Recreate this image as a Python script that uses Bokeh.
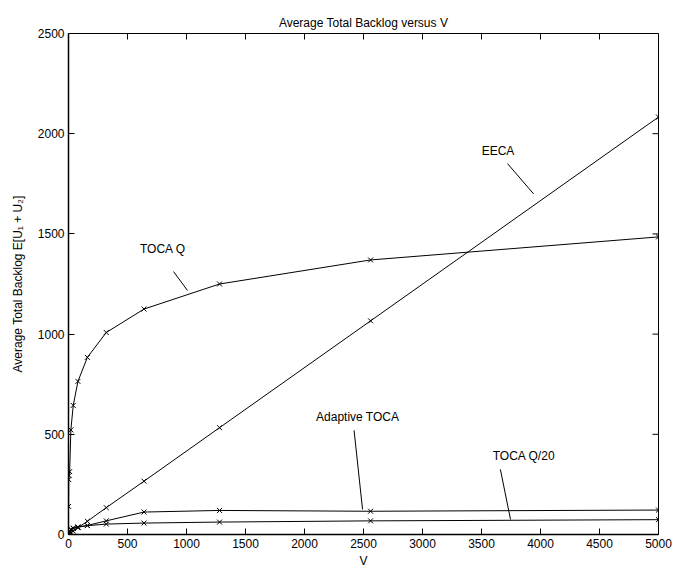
from bokeh.plotting import figure
from bokeh.models import Range1d, FixedTicker, ColumnDataSource
from bokeh.core.properties import value
from bokeh.embed import file_html
from bokeh.resources import INLINE

# ---- data ----
V = [1, 2, 5, 10, 20, 40, 80, 160, 320, 640, 1280, 2560, 5000]
toca_q = [140, 274, 294, 314, 522, 644, 764, 884, 1008, 1125, 1250, 1370, 1485]
eeca = [0.4, 0.8, 2, 4, 8, 17, 34, 66, 134, 266, 533, 1066, 2083]
adaptive_toca = [5, 10, 14, 17, 24, 30, 36, 45, 68, 112, 120, 116, 122]
toca_q20 = [7, 14, 15, 16, 26, 32, 38, 44, 52, 57, 62, 68, 74]

x_ticks = [0, 500, 1000, 1500, 2000, 2500, 3000, 3500, 4000, 4500, 5000]
y_ticks = [0, 500, 1000, 1500, 2000, 2500]

# annotation labels and pointer lines (data coordinates)
ann_text = ["TOCA Q", "EECA", "Adaptive TOCA", "TOCA Q/20"]
ann_tx = [800, 3640, 2450, 3860]
ann_ty = [1390, 1880, 549, 355]
ptr_x0 = [890, 3720, 2420, 3660]
ptr_y0 = [1312, 1851, 520, 325]
ptr_x1 = [1008, 3941, 2492, 3746]
ptr_y1 = [1218, 1700, 125, 75]

FONT = "Liberation Sans"
X_MIN, X_MAX = 0, 5000
Y_MIN, Y_MAX = 0, 2500

p = figure(width=673, height=570,
           x_range=Range1d(X_MIN, X_MAX), y_range=Range1d(Y_MIN, Y_MAX),
           output_backend="svg", toolbar_location=None,
           min_border_left=68, min_border_right=15,
           min_border_top=33, min_border_bottom=36,
           x_axis_label="V",
           y_axis_label="Average Total Backlog E[U\u2081 + U\u2082]",
           title="Average Total Backlog versus V")

p.background_fill_color = "white"
p.border_fill_color = "white"
p.outline_line_color = "black"
p.outline_line_width = 1
p.grid.visible = False

p.title.align = "center"
p.title.text_font = FONT
p.title.text_font_size = "12px"
p.title.text_font_style = "normal"
p.title.text_color = "black"
p.title.standoff = 8

for ax, ticks in ((p.xaxis[0], x_ticks), (p.yaxis[0], y_ticks)):
    ax.ticker = FixedTicker(ticks=ticks)
    ax.major_tick_in = 6
    ax.major_tick_out = 0
    ax.minor_tick_in = 0
    ax.minor_tick_out = 0
    ax.axis_line_color = "black"
    ax.axis_line_width = 1.5
    ax.major_tick_line_color = "black"
    ax.major_label_text_font = FONT
    ax.major_label_text_font_size = "12px"
    ax.major_label_text_color = "black"
    ax.axis_label_text_font = FONT
    ax.axis_label_text_font_size = "12px"
    ax.axis_label_text_font_style = "normal"
    ax.axis_label_text_color = "black"
    ax.major_label_standoff = 4

p.yaxis[0].axis_label_standoff = 10
p.xaxis[0].axis_label_standoff = 3

# box ticks along the top and right edges (from the tick lists)
tick_len_y = (Y_MAX - Y_MIN) * 6 / 501
tick_len_x = (X_MAX - X_MIN) * 6 / 590
p.segment(x0=x_ticks, y0=[Y_MAX] * len(x_ticks), x1=x_ticks,
          y1=[Y_MAX - tick_len_y] * len(x_ticks), line_color="black", line_width=1)
p.segment(x0=[X_MAX] * len(y_ticks), y0=y_ticks, x1=[X_MAX - tick_len_x] * len(y_ticks),
          y1=y_ticks, line_color="black", line_width=1)

for ys in (toca_q, eeca, adaptive_toca, toca_q20):
    p.line(V, ys, line_color="black", line_width=1)
    p.scatter(V, ys, marker="x", size=7, line_color="black", line_width=1)

p.segment(x0=ptr_x0, y0=ptr_y0, x1=ptr_x1, y1=ptr_y1, line_color="black", line_width=1)

src = ColumnDataSource(dict(x=ann_tx, y=ann_ty, t=ann_text))
p.text(x="x", y="y", text="t", source=src, text_align="center", text_baseline="bottom",
       text_font=value(FONT), text_font_size="12px", text_color="black")

open("out.html", "w").write(file_html(p, INLINE))
